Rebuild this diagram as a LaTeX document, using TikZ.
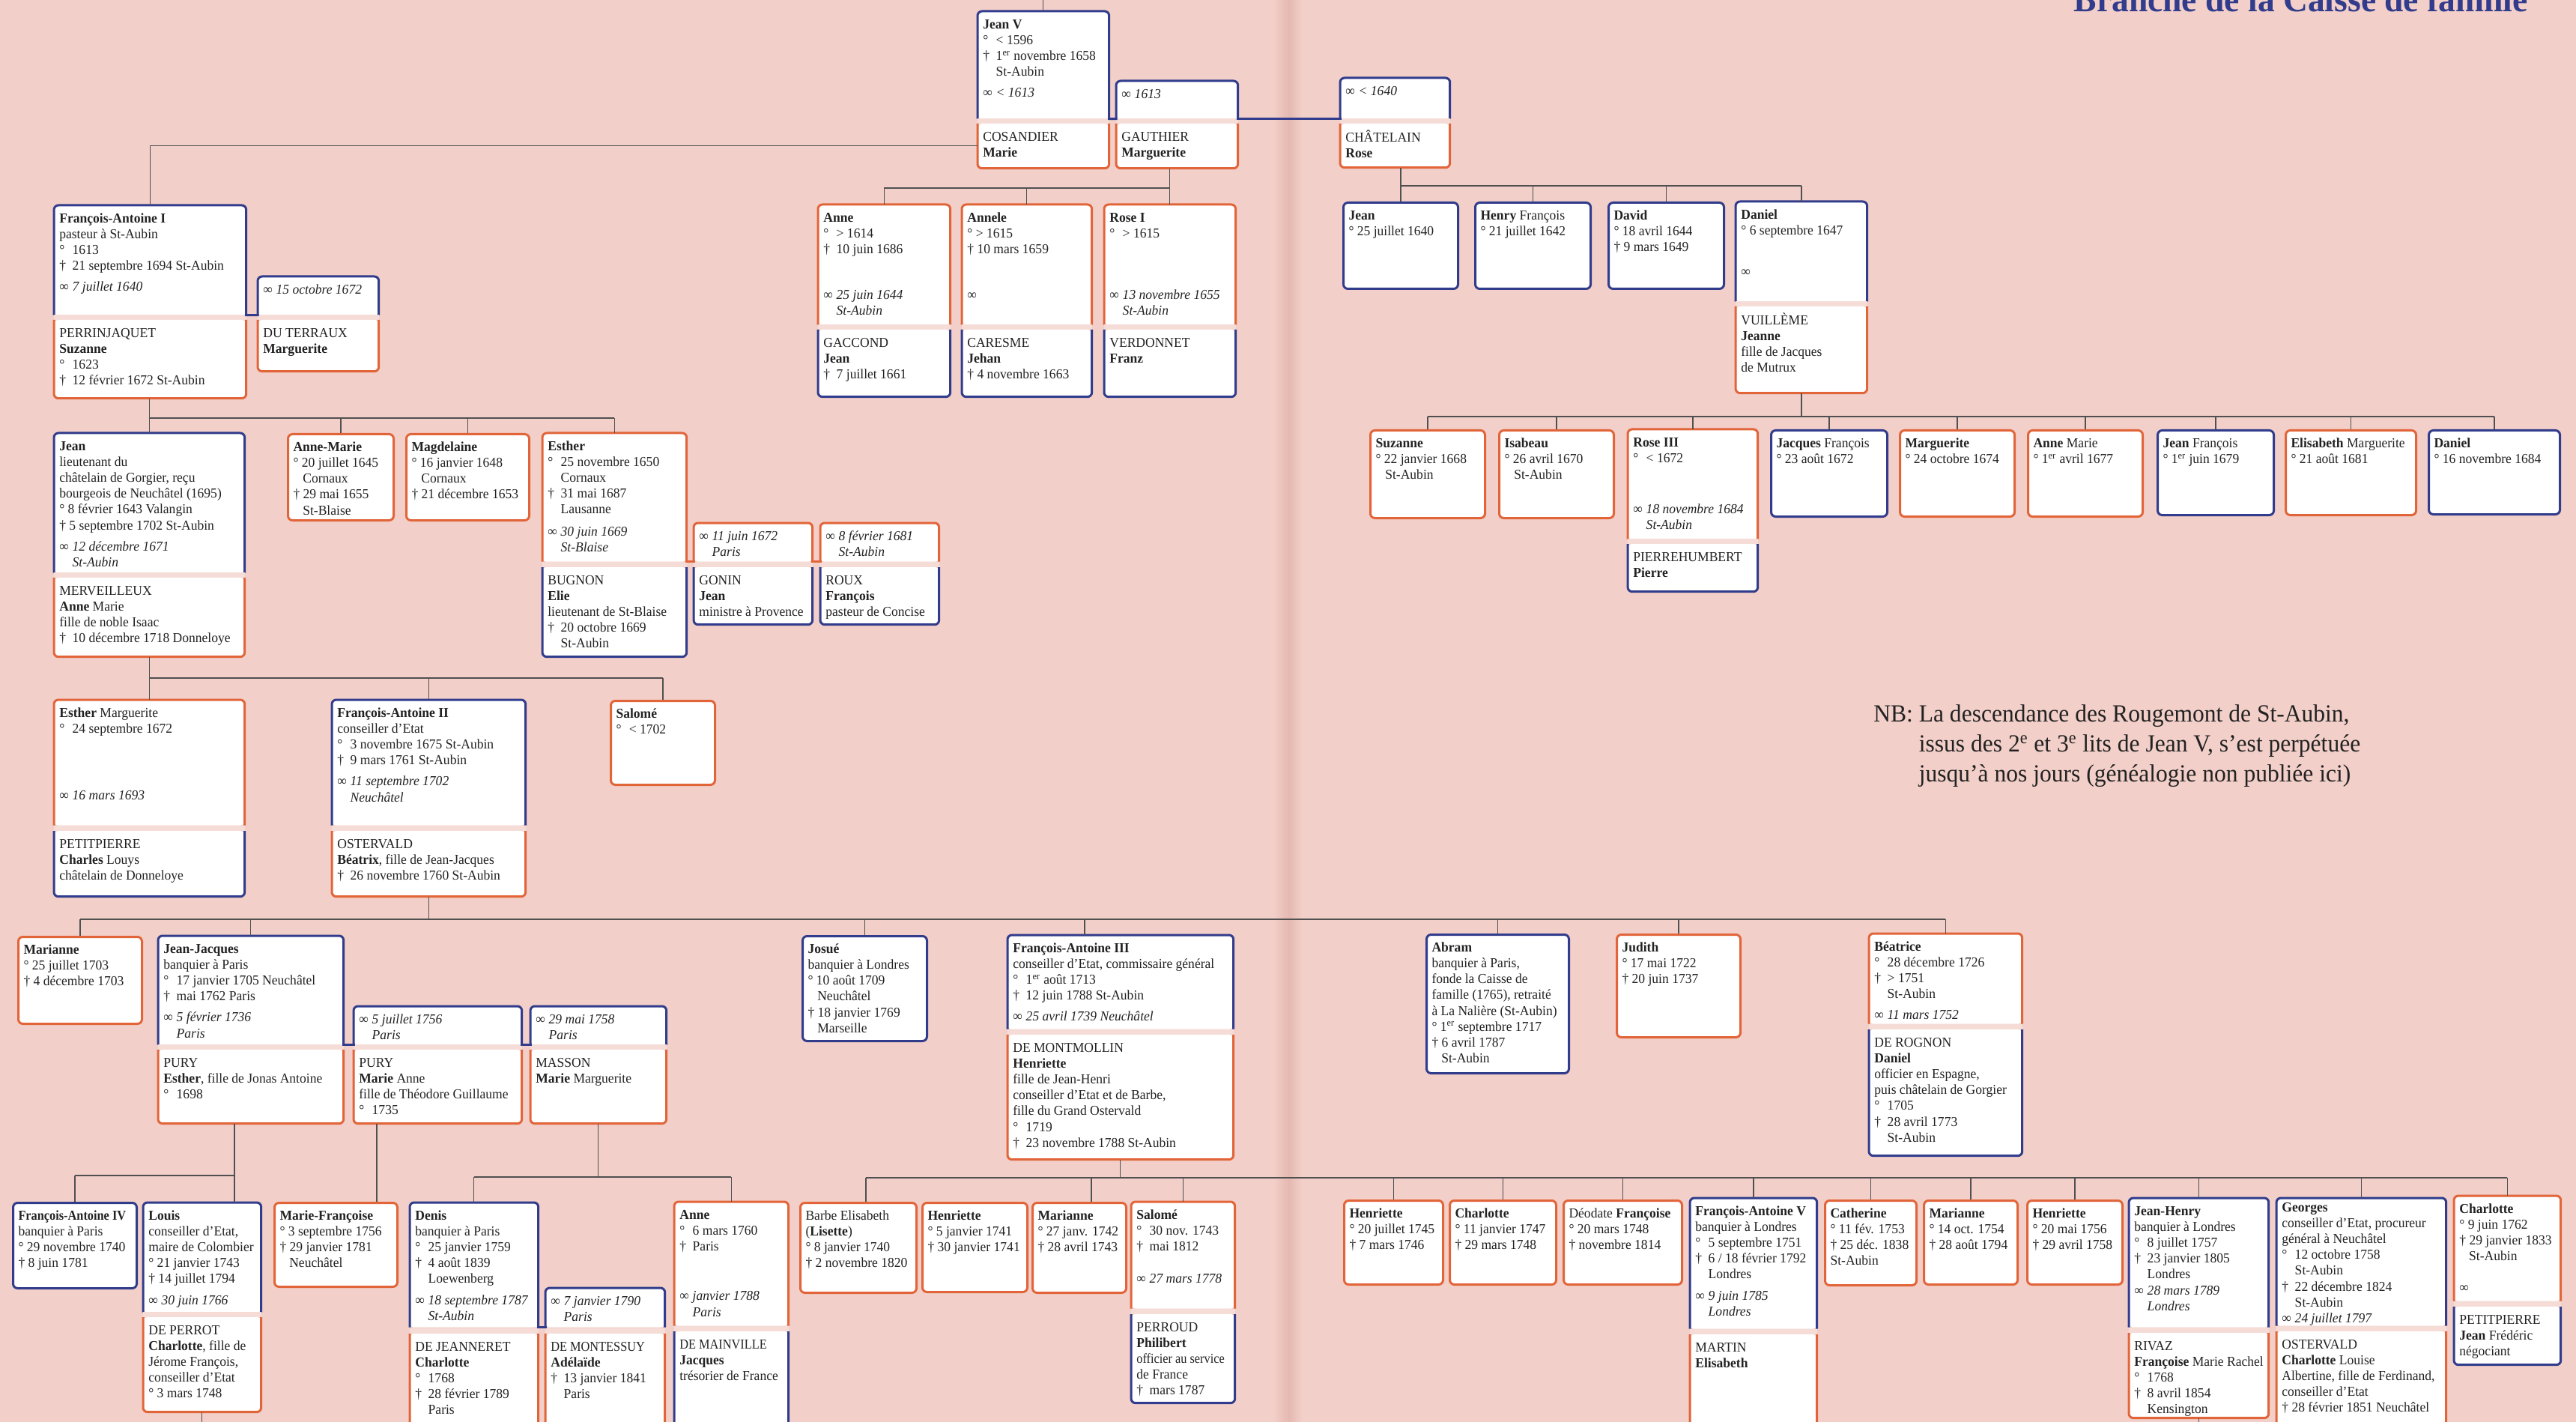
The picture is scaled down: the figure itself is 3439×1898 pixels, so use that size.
\documentclass[tikz,border=0pt]{standalone}
\usepackage{fontspec}
\setmainfont{Liberation Serif}[FakeStretch=0.96]
\usepackage{graphicx}
\usepackage{tikz}
\definecolor{bgpink}{HTML}{F2CFC8}
\definecolor{bandpink}{HTML}{F6DCD7}
\definecolor{gutter}{HTML}{E4B9B1}
\definecolor{maleblue}{HTML}{313C8C}
\definecolor{femorange}{HTML}{E2653A}
\definecolor{linegray}{HTML}{505050}
\definecolor{inkgray}{HTML}{222222}
\newlength\pxu
\setlength\pxu{0.2mm}
\newcommand\boxfont{\fontsize{10.4pt}{12.05pt}\selectfont}
\newcommand\bo{\makebox[0.95em][l]{°}}
\newcommand\de{\makebox[0.95em][l]{†}}
\newcommand\ind{\hspace*{0.95em}}
\newcommand\indn{\hspace*{0.7em}}
\newcommand\mar[1]{\makebox[0.95em][l]{∞}\textit{#1}}
\newcommand\sq[1]{\scalebox{0.93}[1]{#1}}
% box text: [top pad]{width}{height}{lines}
\newcommand\boxtxt[4][8]{\parbox[t][#3\pxu][t]{\dimexpr#2\pxu-14\pxu\relax}{\vspace*{#1\pxu}\noindent\begin{tabular}{@{}l@{}}#4\end{tabular}}}
% same, second group of lines pushed to the bottom
\newcommand\boxtxtb[4]{\parbox[t][#2\pxu][t]{\dimexpr#1\pxu-14\pxu\relax}{\vspace*{8\pxu}\noindent\begin{tabular}{@{}l@{}}#3\end{tabular}\par\vfill\noindent\begin{tabular}{@{}l@{}}#4\end{tabular}\par\vspace*{6\pxu}}}

\begin{document}
\begin{tikzpicture}[x=0.2mm, y=-0.2mm,
    pbox/.style={rectangle, inner xsep=1.4mm, inner ysep=0pt,
                 anchor=north west, font=\boxfont, text=inkgray},
    single/.style={pbox, fill=white, draw=#1, line width=0.6mm, rounded corners=1.2mm},
    upper/.style={pbox, append after command={\pgfextra{%
        \fill[white, rounded corners=1.2mm]
          (\tikzlastnode.south west) |- (\tikzlastnode.north) -| (\tikzlastnode.south east) -- cycle;
        \draw[#1, line width=0.6mm, rounded corners=1.2mm]
          (\tikzlastnode.south west) |- (\tikzlastnode.north) -| (\tikzlastnode.south east);}}},
    lower/.style={pbox, append after command={\pgfextra{%
        \fill[bandpink] ([yshift=1.4mm]\tikzlastnode.north west) rectangle (\tikzlastnode.north east);
        \fill[white, rounded corners=1.2mm]
          (\tikzlastnode.north west) |- (\tikzlastnode.south) -| (\tikzlastnode.north east) -- cycle;
        \draw[#1, line width=0.6mm, rounded corners=1.2mm]
          (\tikzlastnode.north west) |- (\tikzlastnode.south) -| (\tikzlastnode.north east);}}},
    mtop/.style={upper=maleblue}, ftop/.style={upper=femorange},
    mbot/.style={lower=maleblue}, fbot/.style={lower=femorange},
    mone/.style={single=maleblue}, fone/.style={single=femorange},
    link/.style={draw=linegray, line width=0.25mm},
    wed/.style={draw=#1, line width=0.6mm, line cap=rect},
    heading/.style={font=\fontsize{27pt}{30pt}\selectfont\bfseries, text=maleblue, inner sep=0pt},
    nbnote/.style={font=\fontsize{18.7pt}{22.8pt}\selectfont, text=inkgray, inner sep=0pt}
]
    \useasboundingbox (0,0) rectangle (3439,1898);
    \clip (0,0) rectangle (3439,1898);
    \fill[bgpink] (0,0) rectangle (3439,1898);
    \shade[left color=bgpink, right color=gutter] (1700,0) rectangle (1721,1898);
    \shade[left color=gutter, right color=bgpink] (1721,0) rectangle (1738,1898);
    \coordinate (pagetop) at (0,0);
    \coordinate (pagebottom) at (0,1898);

    \node[heading, anchor=base east] (title) at (3375,16) {Branche de la Caisse de famille};
    \node[nbnote, anchor=base west] (nb) at (2501,963) {\begin{tabular}[t]{@{}l@{\ }l@{}}
        NB: & La descendance des Rougemont de St-Aubin,\\
            & issus des 2\textsuperscript{e} et 3\textsuperscript{e} lits de Jean V, s'est perpétuée\\
            & jusqu'à nos jours (généalogie non publiée ici)\end{tabular}};

    % Jean V and his three wives
    \node[mtop] (jeanV) at (1305,15) {\boxtxt{175}{143}{\textbf{Jean V}\\ \bo< 1596\\ \de1\textsuperscript{er} novembre 1658\\ \ind St-Aubin\\[4pt] \mar{< 1613}}};
    \node[fbot] (cosandier) at (1305,165) {\boxtxt{175}{59}{COSANDIER\\ \textbf{Marie}}};
    \node[mtop] (jeanV2) at (1490,108) {\boxtxt{162}{50}{\mar{1613}}};
    \node[fbot] (gauthier) at (1490,165) {\boxtxt{162}{59}{GAUTHIER\\ \textbf{Marguerite}}};
    \node[mtop] (jeanV3) at (1789,104) {\boxtxt{146}{54}{\mar{< 1640}}};
    \node[fbot] (chatelain) at (1789,165) {\boxtxt{146}{58}{CHÂTELAIN\\ \textbf{Rose}}};

    % François-Antoine I
    \node[mtop] (faI) at (72,274) {\boxtxt{256}{146}{\textbf{François-Antoine I}\\ pasteur à St-Aubin\\ \bo1613\\ \de21 septembre 1694 St-Aubin\\[4pt] \mar{7 juillet 1640}}};
    \node[fbot] (perrin) at (72,427) {\boxtxt{256}{104}{PERRINJAQUET\\ \textbf{Suzanne}\\ \bo1623\\ \de12 février 1672 St-Aubin}};
    \node[mtop] (faI2) at (344,369) {\boxtxt{161}{51}{\mar{15 octobre 1672}}};
    \node[fbot] (duterraux) at (344,427) {\boxtxt{161}{68}{DU TERRAUX\\ \textbf{Marguerite}}};

    % children of Jean V and Marguerite Gauthier
    \node[ftop] (anne) at (1092,273) {\boxtxtb{176}{160}{\textbf{Anne}\\ \bo> 1614\\ \de10 juin 1686}{\mar{25 juin 1644}\\ \ind\textit{St-Aubin}}};
    \node[mbot] (gaccond) at (1092,440) {\boxtxt{176}{89}{GACCOND\\ \textbf{Jean}\\ \de7 juillet 1661}};
    \node[ftop] (annele) at (1284,273) {\boxtxtb{173}{160}{\textbf{Annele}\\ ° > 1615\\ † 10 mars 1659}{∞\\ ~}};
    \node[mbot] (caresme) at (1284,440) {\boxtxt{173}{89}{CARESME\\ \textbf{Jehan}\\ † 4 novembre 1663}};
    \node[ftop] (roseI) at (1474,273) {\boxtxtb{175}{160}{\textbf{Rose I}\\ \bo> 1615}{\mar{13 novembre 1655}\\ \ind\textit{St-Aubin}}};
    \node[mbot] (verdonnet) at (1474,440) {\boxtxt{175}{89}{VERDONNET\\ \textbf{Franz}}};

    % children of Jean V and Rose Châtelain
    \node[mone] (jeanC) at (1792,269) {\boxtxt{153}{115}{\textbf{Jean}\\ ° 25 juillet 1640}};
    \node[mone] (henryC) at (1968,269) {\boxtxt{154}{115}{\textbf{Henry} François\\ ° 21 juillet 1642}};
    \node[mone] (davidC) at (2146,269) {\boxtxt{154}{115}{\textbf{David}\\ ° 18 avril 1644\\ † 9 mars 1649}};
    \node[mtop] (danielC) at (2317,269) {\boxtxtb{175}{133}{\textbf{Daniel}\\ ° 6 septembre 1647}{∞\\ ~}};
    \node[fbot] (vuilleme) at (2317,409) {\boxtxt{175}{115}{VUILLÈME\\ \textbf{Jeanne}\\ fille de Jacques\\ de Mutrux}};

    % children of François-Antoine I
    \node[mtop] (jeanM) at (72,578) {\boxtxt{254}{186}{\textbf{Jean}\\ lieutenant du\\ châtelain de Gorgier, reçu\\ bourgeois de Neuchâtel (1695)\\ ° 8 février 1643 Valangin\\ † 5 septembre 1702 St-Aubin\\[4pt] \mar{12 décembre 1671}\\ \ind\textit{St-Aubin}}};
    \node[fbot] (merv) at (72,771) {\boxtxt{254}{105}{MERVEILLEUX\\ \textbf{Anne} Marie\\ fille de noble Isaac\\ \de10 décembre 1718 Donneloye}};
    \node[fone] (anneMarie) at (383,578) {\boxtxt{141}{115}{\textbf{Anne-Marie}\\ ° 20 juillet 1645\\ \indn Cornaux\\ † 29 mai 1655\\ \indn St-Blaise}};
    \node[fone] (magdelaine) at (541,578) {\boxtxt{164}{115}{\textbf{Magdelaine}\\ ° 16 janvier 1648\\ \indn Cornaux\\ † 21 décembre 1653}};
    \node[ftop] (esther) at (724,578) {\boxtxtb{192}{171}{\textbf{Esther}\\ \bo25 novembre 1650\\ \ind Cornaux\\ \de31 mai 1687\\ \ind Lausanne}{\mar{30 juin 1669}\\ \ind\textit{St-Blaise}}};
    \node[mbot] (bugnon) at (724,757) {\boxtxt{192}{119}{BUGNON\\ \textbf{Elie}\\ lieutenant de St-Blaise\\ \de20 octobre 1669\\ \ind St-Aubin}};
    \node[ftop] (esther2) at (926,698) {\boxtxt{158}{51}{\mar{11 juin 1672}\\ \ind\textit{Paris}}};
    \node[mbot] (gonin) at (926,757) {\boxtxt{158}{76}{GONIN\\ \textbf{Jean}\\ ministre à Provence}};
    \node[ftop] (esther3) at (1095,698) {\boxtxt{158}{51}{\mar{8 février 1681}\\ \ind\textit{St-Aubin}}};
    \node[mbot] (roux) at (1095,757) {\boxtxt{158}{76}{ROUX\\ \textbf{François}\\ pasteur de Concise}};

    % children of Daniel and Jeanne Vuillème
    \node[fone] (suzanne) at (1828,573) {\boxtxt{153}{117}{\textbf{Suzanne}\\ ° 22 janvier 1668\\ \indn St-Aubin}};
    \node[fone] (isabeau) at (2000,573) {\boxtxt{153}{117}{\textbf{Isabeau}\\ ° 26 avril 1670\\ \indn St-Aubin}};
    \node[ftop] (roseIII) at (2173,573) {\boxtxtb{173}{146}{\textbf{Rose III}\\ \bo< 1672}{\mar{18 novembre 1684}\\ \ind\textit{St-Aubin}}};
    \node[mbot] (pierreh) at (2173,726) {\boxtxt{173}{63}{PIERREHUMBERT\\ \textbf{Pierre}}};
    \node[mone] (jacquesF) at (2363,573) {\boxtxt{155}{115}{\textbf{Jacques} François\\ ° 23 août 1672}};
    \node[fone] (margueriteD) at (2535,573) {\boxtxt{153}{115}{\textbf{Marguerite}\\ ° 24 octobre 1674}};
    \node[fone] (anneMarieD) at (2706,573) {\boxtxt{153}{115}{\textbf{Anne} Marie\\ ° 1\textsuperscript{er} avril 1677}};
    \node[mone] (jeanF) at (2879,573) {\boxtxt{155}{113}{\textbf{Jean} François\\ ° 1\textsuperscript{er} juin 1679}};
    \node[fone] (elisabethM) at (3050,573) {\boxtxt{174}{113}{\textbf{Elisabeth} Marguerite\\ ° 21 août 1681}};
    \node[mone] (danielD) at (3241,573) {\boxtxt{175}{112}{\textbf{Daniel}\\ ° 16 novembre 1684}};

    % children of Jean and Anne Marie Merveilleux
    \node[ftop] (estherM) at (72,934) {\boxtxtb{254}{167}{\textbf{Esther} Marguerite\\ \bo24 septembre 1672}{\mar{16 mars 1693}\\ ~}};
    \node[mbot] (petitp) at (72,1109) {\boxtxt{254}{87}{PETITPIERRE\\ \textbf{Charles} Louys\\ châtelain de Donneloye}};
    \node[mtop] (faII) at (443,934) {\boxtxt{258}{167}{\textbf{François-Antoine II}\\ conseiller d'Etat\\ \bo3 novembre 1675 St-Aubin\\ \de9 mars 1761 St-Aubin\\[4pt] \mar{11 septembre 1702}\\ \ind\textit{Neuchâtel}}};
    \node[fbot] (ostervald) at (443,1109) {\boxtxt{258}{87}{OSTERVALD\\ \textbf{Béatrix}, fille de Jean-Jacques\\ \de26 novembre 1760 St-Aubin}};
    \node[fone] (salome) at (814,934) {\boxtxt{139}{112}{\textbf{Salomé}\\ \bo< 1702}};

    % children of François-Antoine II and Béatrix Ostervald
    \node[fone] (marianneA) at (23,1249) {\boxtxt{165}{116}{\textbf{Marianne}\\ ° 25 juillet 1703\\ † 4 décembre 1703}};
    \node[mtop] (jeanJ) at (211,1249) {\boxtxt{247}{145}{\textbf{Jean-Jacques}\\ banquier à Paris\\ \bo17 janvier 1705 Neuchâtel\\ \de mai 1762 Paris\\[4pt] \mar{5 février 1736}\\ \ind\textit{Paris}}};
    \node[fbot] (puryE) at (211,1401) {\boxtxt{247}{98}{PURY\\ \textbf{Esther}, fille de Jonas Antoine\\ \bo1698}};
    \node[mtop] (jeanJ2) at (472,1343) {\boxtxt{224}{51}{\mar{5 juillet 1756}\\ \ind\textit{Paris}}};
    \node[fbot] (puryM) at (472,1401) {\boxtxt{224}{98}{PURY\\ \textbf{Marie} Anne\\ fille de Théodore Guillaume\\ \bo1735}};
    \node[mtop] (jeanJ3) at (708,1343) {\boxtxt{181}{51}{\mar{29 mai 1758}\\ \ind\textit{Paris}}};
    \node[fbot] (masson) at (708,1401) {\boxtxt{181}{98}{MASSON\\ \textbf{Marie} Marguerite}};
    \node[mone] (josue) at (1070,1248) {\boxtxt{166}{140}{\textbf{Josué}\\ banquier à Londres\\ ° 10 août 1709\\ \indn Neuchâtel\\ † 18 janvier 1769\\ \indn Marseille}};
    \node[mtop] (faIII) at (1345,1248) {\boxtxt{301}{125}{\textbf{François-Antoine III}\\ conseiller d'Etat, commissaire général\\ \bo1\textsuperscript{er} août 1713\\ \de12 juin 1788 St-Aubin\\[4pt] \mar{25 avril 1739 Neuchâtel}}};
    \node[fbot] (montmollin) at (1345,1381) {\boxtxt{301}{166}{DE MONTMOLLIN\\ \textbf{Henriette}\\ fille de Jean-Henri\\ conseiller d'Etat et de Barbe,\\ fille du Grand Ostervald\\ \bo1719\\ \de23 novembre 1788 St-Aubin}};
    \node[mone] (abram) at (1903,1246) {\boxtxt{190}{185}{\textbf{Abram}\\ banquier à Paris,\\ fonde la Caisse de\\ famille (1765), retraité\\ à La Nalière (St-Aubin)\\ ° 1\textsuperscript{er} septembre 1717\\ † 6 avril 1787\\ \indn St-Aubin}};
    \node[fone] (judith) at (2157,1246) {\boxtxt{165}{137}{\textbf{Judith}\\ ° 17 mai 1722\\ † 20 juin 1737}};
    \node[ftop] (beatrice) at (2495,1246) {\boxtxt{204}{120}{\textbf{Béatrice}\\ \bo28 décembre 1726\\ \de> 1751\\ \ind St-Aubin\\[4pt] \mar{11 mars 1752}}};
    \node[mbot] (rognon) at (2495,1374) {\boxtxt{204}{168}{DE ROGNON\\ \textbf{Daniel}\\ officier en Espagne,\\ puis châtelain de Gorgier\\ \bo1705\\ \de28 avril 1773\\ \ind St-Aubin}};

    % children of Jean-Jacques
    \node[mone] (faIV) at (16,1604) {\boxtxt{165}{114}{\sq{\textbf{François-Antoine IV}}\\ banquier à Paris\\ ° 29 novembre 1740\\ † 8 juin 1781}};
    \node[mtop] (louis) at (191,1605) {\boxtxt{157}{146}{\textbf{Louis}\\ conseiller d'Etat,\\ maire de Colombier\\ ° 21 janvier 1743\\ † 14 juillet 1794\\[4pt] \mar{30 juin 1766}}};
    \node[fbot] (perrot) at (191,1758) {\boxtxt{157}{126}{DE PERROT\\ \textbf{Charlotte}, fille de\\ Jérome François,\\ conseiller d'Etat\\ ° 3 mars 1748}};
    \node[fone] (marieF) at (365,1604) {\boxtxt{164}{112}{\textbf{Marie-Françoise}\\ ° 3 septembre 1756\\ † 29 janvier 1781\\ \indn Neuchâtel}};
    \node[mtop] (denis) at (547,1605) {\boxtxt{171}{166}{\textbf{Denis}\\ banquier à Paris\\ \bo25 janvier 1759\\ \de4 août 1839\\ \ind Loewenberg\\[4pt] \mar{18 septembre 1787}\\ \ind\textit{St-Aubin}}};
    \node[fbot] (jeanneret) at (547,1780) {\boxtxt{171}{125}{DE JEANNERET\\ \textbf{Charlotte}\\ \bo1768\\ \de28 février 1789\\ \ind Paris}};
    \node[mtop] (denis2) at (728,1719) {\boxtxt{159}{52}{\mar{7 janvier 1790}\\ \ind\textit{Paris}}};
    \node[fbot] (montessuy) at (728,1780) {\boxtxt{159}{125}{\sq{DE MONTESSUY}\\ \textbf{Adélaïde}\\ \de13 janvier 1841\\ \ind Paris}};
    \node[ftop] (anneB) at (900,1604) {\boxtxtb{152}{165}{\textbf{Anne}\\ \bo6 mars 1760\\ \de Paris}{\mar{janvier 1788}\\ \ind\textit{Paris}}};
    \node[mbot] (mainville) at (900,1777) {\boxtxt{152}{128}{\sq{DE MAINVILLE}\\ \textbf{Jacques}\\ trésorier de France}};

    % children of François-Antoine III and Henriette de Montmollin
    \node[fone] (barbe) at (1067,1604) {\boxtxt{155}{120}{Barbe Elisabeth\\ (\textbf{Lisette})\\ ° 8 janvier 1740\\ † 2 novembre 1820}};
    \node[fone] (henrietteA) at (1230,1604) {\boxtxt{140}{119}{\textbf{Henriette}\\ ° 5 janvier 1741\\ † 30 janvier 1741}};
    \node[fone] (marianneB) at (1377,1604) {\boxtxt{125}{120}{\textbf{Marianne}\\ ° 27 janv. 1742\\ † 28 avril 1743}};
    \node[ftop] (salomeB) at (1510,1604) {\boxtxtb{138}{142}{\textbf{Salomé}\\ \bo30 nov. 1743\\ \de mai 1812}{\mar{27 mars 1778}\\ ~}};
    \node[mbot] (perroud) at (1510,1754) {\boxtxt{138}{118}{PERROUD\\ \textbf{Philibert}\\ \sq{officier au service}\\ de France\\ \de mars 1787}};
    \node[fone] (henrietteB) at (1793,1601) {\boxtxt{132}{112}{\textbf{Henriette}\\ ° 20 juillet 1745\\ † 7 mars 1746}};
    \node[fone] (charlotteA) at (1934,1601) {\boxtxt{142}{112}{\textbf{Charlotte}\\ ° 11 janvier 1747\\ † 29 mars 1748}};
    \node[fone] (deodate) at (2086,1601) {\boxtxt{158}{112}{Déodate \textbf{Françoise}\\ ° 20 mars 1748\\ † novembre 1814}};
    \node[mtop] (faV) at (2256,1599) {\boxtxt{169}{174}{\textbf{François-Antoine V}\\ banquier à Londres\\ \bo5 septembre 1751\\ \de6 / 18 février 1792\\ \ind Londres\\[4pt] \mar{9 juin 1785}\\ \ind\textit{Londres}}};
    \node[fbot] (martin) at (2256,1781) {\boxtxt{169}{125}{MARTIN\\ \textbf{Elisabeth}}};
    \node[fone] (catherine) at (2435,1601) {\boxtxt{122}{113}{\textbf{Catherine}\\ ° 11 fév. 1753\\ † 25 déc. 1838\\ St-Aubin}};
    \node[fone] (marianneC) at (2567,1601) {\boxtxt{125}{112}{\textbf{Marianne}\\ ° 14 oct. 1754\\ † 28 août 1794}};
    \node[fone] (henrietteC) at (2705,1601) {\boxtxt{127}{112}{\textbf{Henriette}\\ ° 20 mai 1756\\ † 29 avril 1758}};
    \node[mtop] (jeanHenry) at (2842,1599) {\boxtxt{186}{172}{\textbf{Jean-Henry}\\ banquier à Londres\\ \bo8 juillet 1757\\ \de23 janvier 1805\\ \ind Londres\\ \mar{28 mars 1789}\\ \ind\textit{Londres}}};
    \node[fbot] (rivaz) at (2842,1779) {\boxtxt{186}{113}{RIVAZ\\ \textbf{Françoise} Marie Rachel\\ \bo1768\\ \de8 avril 1854\\ \ind Kensington}};
    \node[mtop] (georges) at (3039,1599) {\boxtxt[3]{226}{170}{\textbf{Georges}\\ conseiller d'Etat, procureur\\ général à Neuchâtel\\ \bo12 octobre 1758\\ \ind St-Aubin\\ \de22 décembre 1824\\ \ind St-Aubin\\ \mar{24 juillet 1797}}};
    \node[fbot] (osterC) at (3039,1777) {\boxtxt{226}{130}{OSTERVALD\\ \textbf{Charlotte} Louise\\ Albertine, fille de Ferdinand,\\ conseiller d'Etat\\ † 28 février 1851 Neuchâtel}};
    \node[ftop] (charlotteB) at (3276,1596) {\boxtxtb{142}{140}{\textbf{Charlotte}\\ ° 9 juin 1762\\ † 29 janvier 1833\\ \indn St-Aubin}{∞}};
    \node[mbot] (petitpJ) at (3276,1744) {\boxtxt{142}{77}{PETITPIERRE\\ \textbf{Jean} Frédéric\\ négociant}};

    % second and third marriages
    \draw[wed=maleblue] (jeanV.south east) -- (jeanV2.south west);
    \draw[wed=maleblue] (jeanV2.south east) -- (jeanV3.south west);
    \draw[wed=maleblue] (faI.south east) -- (faI2.south west);
    \draw[wed=femorange] (esther.south east) -- (esther2.south west);
    \draw[wed=femorange] (esther2.south east) -- (esther3.south west);
    \draw[wed=maleblue] (jeanJ.south east) -- (jeanJ2.south west);
    \draw[wed=maleblue] (jeanJ2.south east) -- (jeanJ3.south west);
    \draw[wed=maleblue] (denis.south east) -- (denis2.south west);

    % descent lines
    \draw[link] (jeanV.north) -- (jeanV.north |- pagetop);
    \draw[link] (cosandier.west) -| (faI.north);

    \coordinate (gbar) at (0,251);
    \draw[link] (gauthier.south -| roseI.north) -- (roseI.north);
    \draw[link] (anne.north |- gbar) -- (roseI.north |- gbar);
    \foreach \kid in {anne,annele} \draw[link] (\kid.north) -- (\kid.north |- gbar);

    \coordinate (cbar) at (0,248);
    \draw[link] (chatelain.south -| jeanC.north) -- (jeanC.north);
    \draw[link] (jeanC.north |- cbar) -- (danielC.north |- cbar);
    \foreach \kid in {henryC,davidC,danielC} \draw[link] (\kid.north) -- (\kid.north |- cbar);

    \coordinate (pbar) at (0,558);
    \draw[link] (perrin.south -| jeanM.north) -- (jeanM.north);
    \draw[link] (jeanM.north |- pbar) -- (esther.north |- pbar);
    \foreach \kid in {anneMarie,magdelaine,esther} \draw[link] (\kid.north) -- (\kid.north |- pbar);

    \coordinate (vbar) at (0,556);
    \draw[link] (vuilleme.south) -- (vuilleme.south |- vbar);
    \draw[link] (suzanne.north |- vbar) -- (danielD.north |- vbar);
    \foreach \kid in {suzanne,isabeau,roseIII,jacquesF,margueriteD,anneMarieD,jeanF,elisabethM,danielD}
        \draw[link] (\kid.north) -- (\kid.north |- vbar);

    \coordinate (mbar) at (0,905);
    \draw[link] (merv.south -| estherM.north) -- (estherM.north);
    \draw[link] (estherM.north |- mbar) -- (salome.north |- mbar);
    \foreach \kid in {faII,salome} \draw[link] (\kid.north) -- (\kid.north |- mbar);

    \coordinate (obar) at (0,1227);
    \draw[link] (ostervald.south) -- (ostervald.south |- obar);
    \draw[link] (marianneA.north |- obar) -- (beatrice.north |- obar);
    \foreach \kid in {marianneA,jeanJ,josue,abram,judith,beatrice} \draw[link] (\kid.north) -- (\kid.north |- obar);
    \draw[link] (1448,0 |- obar) -- (1448,0 |- faIII.north);

    \coordinate (ebar) at (0,1569);
    \draw[link] (313,0 |- puryE.south) -- (313,0 |- louis.north);
    \draw[link] (faIV.north |- ebar) -- (313,0 |- ebar);
    \draw[link] (faIV.north) -- (faIV.north |- ebar);
    \draw[link] (503,0 |- puryM.south) -- (503,0 |- marieF.north);

    \coordinate (sbar) at (0,1571);
    \draw[link] (masson.south) -- (masson.south |- sbar);
    \draw[link] (denis.north |- sbar) -- (anneB.north |- sbar);
    \foreach \kid in {denis,anneB} \draw[link] (\kid.north) -- (\kid.north |- sbar);

    \coordinate (hbar) at (0,1572);
    \draw[link] (montmollin.south) -- (montmollin.south |- hbar);
    \draw[link] (1156,0 |- hbar) -- (charlotteB.north |- hbar);
    \draw[link] (1156,0 |- hbar) -- (1156,0 |- barbe.north);
    \draw[link] (1457,0 |- hbar) -- (1457,0 |- marianneB.north);
    \foreach \kid in {salomeB,henrietteB,charlotteA,deodate,faV,catherine,marianneC,henrietteC,jeanHenry,georges,charlotteB}
        \draw[link] (\kid.north) -- (\kid.north |- hbar);

    \draw[link] (perrot.south) -- (perrot.south |- pagebottom);
    \draw[link] (rivaz.south) -- (rivaz.south |- pagebottom);
\end{tikzpicture}
\end{document}
